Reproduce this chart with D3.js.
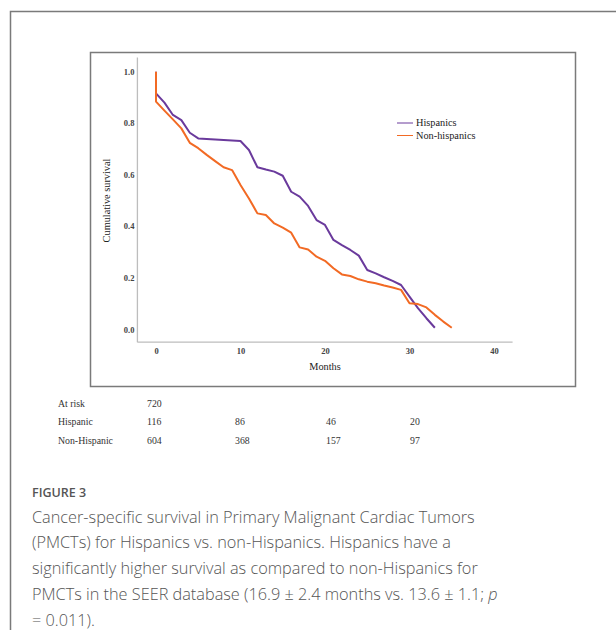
<!DOCTYPE html>
<html>
<head>
<meta charset="utf-8">
<script src="https://cdn.jsdelivr.net/npm/d3@7"></script>
<style>
  body { margin: 0; background: #fff; }
  svg { display: block; }
</style>
</head>
<body>
<script>
// data
var months = [0, 0, 1, 2, 3, 4, 5, 6, 7, 8, 9, 10, 11, 12, 13, 14, 15, 16, 17, 18, 19, 20,
              21, 22, 23, 24, 25, 26, 27, 28, 29, 30, 31, 32, 33, 34, 35];
var hispanic = [1.0, 0.916, 0.88, 0.832, 0.812, 0.763, 0.741, 0.739, 0.737, 0.735, 0.733, 0.731,
                0.696, 0.629, 0.62, 0.612, 0.596, 0.534, 0.515, 0.479, 0.424, 0.405,
                0.347, 0.327, 0.308, 0.286, 0.23, 0.217, 0.202, 0.188, 0.172, 0.127, 0.082, 0.043, 0.006];
var nonHispanic = [1.0, 0.884, 0.849, 0.815, 0.78, 0.724, 0.703, 0.677, 0.653, 0.629, 0.618, 0.56,
                   0.508, 0.45, 0.444, 0.411, 0.395, 0.375, 0.318, 0.31, 0.282, 0.266,
                   0.237, 0.213, 0.207, 0.194, 0.185, 0.179, 0.17, 0.162, 0.153, 0.101, 0.098, 0.085, 0.056, 0.03, 0.006];
var xTicks = [0, 10, 20, 30, 40];
var yTicks = [0, 0.2, 0.4, 0.6, 0.8, 1.0];
var riskRows = ["At risk", "Hispanic", "Non-Hispanic"];
var riskValues = [["720"], ["116", "86", "46", "20"], ["604", "368", "157", "97"]];
var riskCols = [147, 235, 326, 410];
// each caption line is a list of [text, italic]
var captionLines = [
  [["Cancer-specific survival in Primary Malignant Cardiac Tumors", false]],
  [["(PMCTs) for Hispanics vs. non-Hispanics. Hispanics have a", false]],
  [["significantly higher survival as compared to non-Hispanics for", false]],
  [["PMCTs in the SEER database (16.9 \u00b1 2.4 months vs. 13.6 \u00b1 1.1; ", false], ["p", true]],
  [["= 0.011).", false]]
];

var W = 616, H = 630;
var purple = "#6a3a9c", orange = "#f26a24";
var serif = "'Liberation Serif', 'Times New Roman', serif";

var svg = d3.select("body").append("svg").attr("width", W).attr("height", H);

// outer figure frame (top + left)
svg.append("path")
    .attr("d", "M10.5,630 L10.5,11.5 L616,11.5")
    .attr("fill", "none").attr("stroke", "#7a7a7a").attr("stroke-width", 1.5);

// chart image frame
svg.append("rect")
    .attr("x", 90.5).attr("y", 52.5).attr("width", 485).attr("height", 334)
    .attr("fill", "none").attr("stroke", "#7a7a7a").attr("stroke-width", 1.5);

var x = d3.scaleLinear().domain([0, 40]).range([156, 494]);
var y = d3.scaleLinear().domain([0, 1]).range([329.3, 71.7]);

// axis lines
svg.append("line")
    .attr("x1", x(-2.2)).attr("x2", x(-2.2)).attr("y1", y(1.055)).attr("y2", y(-0.05))
    .attr("stroke", "#bdbdbd").attr("stroke-width", 1.3);
svg.append("line")
    .attr("x1", x(-2.2)).attr("x2", x(42.2)).attr("y1", y(-0.05)).attr("y2", y(-0.05))
    .attr("stroke", "#bdbdbd").attr("stroke-width", 1.3);

var yAxis = svg.append("g")
    .attr("transform", "translate(" + x(-2.2) + ",0)")
    .call(d3.axisLeft(y).tickValues(yTicks).tickSize(0).tickPadding(3).tickFormat(d3.format(".1f")));
var xAxis = svg.append("g")
    .attr("transform", "translate(0," + y(-0.05) + ")")
    .call(d3.axisBottom(x).tickValues(xTicks).tickSize(0).tickPadding(6));
[yAxis, xAxis].forEach(function (g) {
  g.select(".domain").remove();
  g.selectAll("text").attr("font-family", serif).attr("font-size", 8.5)
      .attr("font-weight", "bold").attr("fill", "#444");
});

svg.append("text")
    .attr("transform", "translate(110," + y(0.5) + ") rotate(-90)")
    .attr("text-anchor", "middle").attr("font-family", serif).attr("font-size", 10.3)
    .attr("fill", "#222").text("Cumulative survival");
svg.append("text")
    .attr("x", x(20)).attr("y", 370)
    .attr("text-anchor", "middle").attr("font-family", serif).attr("font-size", 10.3)
    .attr("fill", "#222").text("Months");

// survival curves
var line = d3.line()
    .x(function (d) { return x(d[0]); })
    .y(function (d) { return y(d[1]); });

var hisp = hispanic.map(function (v, i) { return [months[i], v]; });
var nonh = nonHispanic.map(function (v, i) { return [months[i], v]; });

svg.append("path").datum(hisp).attr("d", line)
    .attr("fill", "none").attr("stroke", purple).attr("stroke-width", 2).attr("stroke-linejoin", "round");
svg.append("path").datum(nonh).attr("d", line)
    .attr("fill", "none").attr("stroke", orange).attr("stroke-width", 2).attr("stroke-linejoin", "round");

// legend
var legend = [["Hispanics", purple], ["Non-hispanics", orange]];
legend.forEach(function (l, i) {
  var ly = 123 + i * 12.5;
  svg.append("line").attr("x1", 397).attr("x2", 413).attr("y1", ly).attr("y2", ly)
      .attr("stroke", l[1]).attr("stroke-width", 1);
  svg.append("text").attr("x", 416).attr("y", ly + 3.3)
      .attr("font-family", serif).attr("font-size", 10.3).attr("fill", "#222").text(l[0]);
});

// numbers at risk
riskRows.forEach(function (r, i) {
  var ry = 406.5 + i * 18.5;
  svg.append("text").attr("x", 58).attr("y", ry)
      .attr("font-family", serif).attr("font-size", 9.8).attr("fill", "#333").text(r);
  riskValues[i].forEach(function (v, j) {
    svg.append("text").attr("x", riskCols[j]).attr("y", ry)
        .attr("font-family", serif).attr("font-size", 9.8).attr("fill", "#333").text(v);
  });
});

// caption
svg.append("text").attr("x", 32).attr("y", 496.5)
    .attr("font-family", "'Open Sans', sans-serif").attr("font-size", 12.5)
    .attr("font-weight", 600).attr("fill", "#555").text("FIGURE 3");

var cap = svg.append("g");
captionLines.forEach(function (segs, i) {
  var t = cap.append("text").attr("x", 32).attr("y", 522.5 + i * 25.9)
      .attr("font-family", "'Open Sans', sans-serif").attr("font-size", 16)
      .attr("font-weight", 300).attr("fill", "#555");
  segs.forEach(function (s) {
    t.append("tspan").attr("font-style", s[1] ? "italic" : null).text(s[0]);
  });
});
// fit caption width to the reference (first line ~443px wide)
var w0 = cap.select("text").node().getComputedTextLength();
cap.selectAll("text").attr("font-size", 16 * 443 / w0);
</script>
</body>
</html>
